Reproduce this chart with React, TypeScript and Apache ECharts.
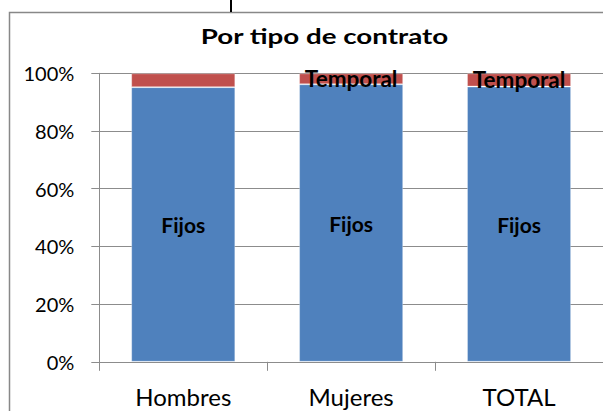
import React, { useEffect, useRef } from "react";
import * as echarts from "echarts";

const categories = ["Hombres", "Mujeres", "TOTAL"];
const fijos = [95.2, 96.2, 95.4];
const temporal = [4.8, 3.8, 4.6];
const temporalLabelVisible = [false, true, true];
const yTicks = [0, 20, 40, 60, 80, 100];
const titleText = "Por tipo de contrato";

export default function App() {
  const ref = useRef<HTMLDivElement>(null);
  useEffect(() => {
    if (!ref.current) return;
    const chart = echarts.init(ref.current, undefined, { renderer: "svg" });
    const font = "Lato, 'Open Sans', sans-serif";
    const gray = "#8c8c8c";
    chart.setOption({
      animation: false,
      backgroundColor: "#ffffff",
      graphic: [
        {
          type: "rect",
          shape: { x: 9.5, y: 12.5, width: 700, height: 500 },
          style: { fill: "none", stroke: "#888", lineWidth: 1.5 },
          silent: true,
        },
        {
          type: "line",
          shape: { x1: 231, y1: 0, x2: 231, y2: 12 },
          style: { stroke: "#000", lineWidth: 2 },
          silent: true,
        },
        {
          type: "text",
          x: 324.5,
          y: 35.5,
          scaleX: 1.32,
          silent: true,
          style: {
            text: titleText,
            fontFamily: font,
            fontSize: 21,
            fontWeight: "bold",
            fill: "#000",
            align: "center",
            verticalAlign: "middle",
          },
        },
      ],
      grid: { left: 99.3, top: 73.3, width: 507, height: 288.5, containLabel: false },
      xAxis: {
        type: "category",
        data: categories,
        axisLine: { show: true, lineStyle: { color: gray, width: 1 } },
        axisTick: { show: true, length: 9, lineStyle: { color: gray } },
        axisLabel: { fontFamily: font, fontSize: 24, color: "#000", margin: 23, lineHeight: 24 },
        splitLine: { show: false },
      },
      yAxis: {
        type: "value",
        min: yTicks[0],
        max: yTicks[yTicks.length - 1],
        interval: 20,
        axisLine: { show: true, lineStyle: { color: gray, width: 1 } },
        axisTick: { show: true, length: 8, lineStyle: { color: gray } },
        axisLabel: { fontFamily: font, fontSize: 20, color: "#000", margin: 25, formatter: "{value}%" },
        splitLine: { show: true, lineStyle: { color: gray, width: 1 } },
      },
      series: [
        {
          name: "Fijos",
          type: "bar",
          stack: "total",
          barWidth: "62%",
          data: fijos,
          itemStyle: { color: "#4F81BD", borderColor: "rgba(255,255,255,0.3)", borderWidth: 1 },
          label: {
            show: true,
            position: "inside",
            formatter: "{a}",
            fontFamily: font,
            fontSize: 21,
            fontWeight: "bold",
            color: "#000",
          },
        },
        {
          name: "Temporal",
          type: "bar",
          stack: "total",
          barWidth: "62%",
          data: temporal.map((v, i) => ({ value: v, label: { show: temporalLabelVisible[i] } })),
          itemStyle: { color: "#C0504D", borderColor: "rgba(255,255,255,0.3)", borderWidth: 1 },
          label: {
            show: true,
            position: "inside",
            formatter: "{a}",
            fontFamily: font,
            fontSize: 22.5,
            fontWeight: "bold",
            color: "#000",
          },
        },
      ],
    });
    return () => chart.dispose();
  }, []);
  return (
    <div
      ref={ref}
      style={{ position: "absolute", left: 0, top: 0, width: 603, height: 411 }}
    />
  );
}
